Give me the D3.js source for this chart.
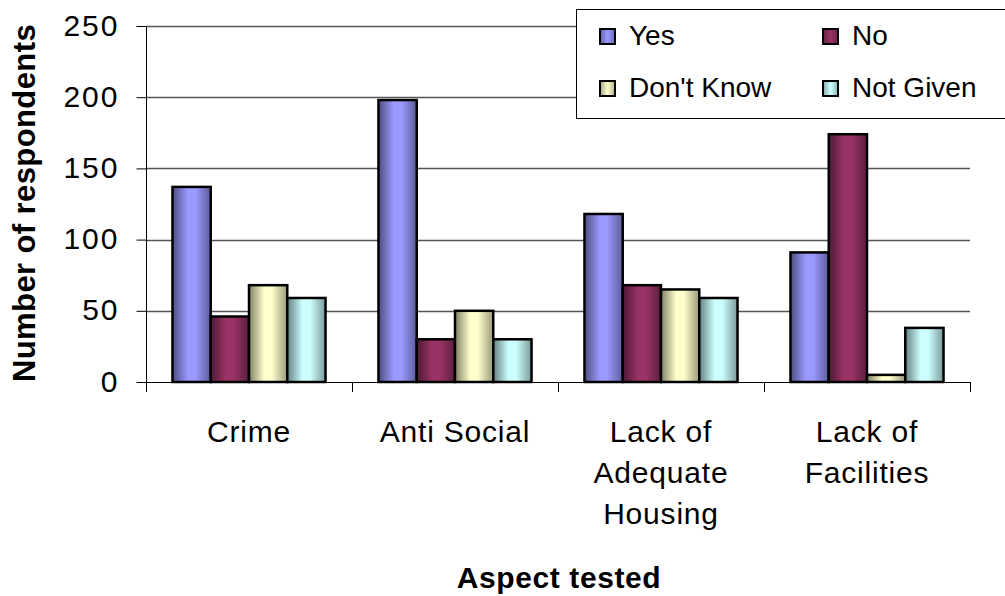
<!DOCTYPE html>
<html>
<head>
<meta charset="utf-8">
<script src="https://cdn.jsdelivr.net/npm/d3@7/dist/d3.min.js"></script>
<style>
  html, body { margin: 0; padding: 0; background: #fff; }
  svg { display: block; font-family: "Liberation Sans", Arial, sans-serif; }
</style>
</head>
<body>
<svg id="chart" width="1005" height="596"></svg>
<script>
// Survey responses per aspect tested
const categories = [["Crime"], ["Anti Social"], ["Lack of", "Adequate", "Housing"], ["Lack of", "Facilities"]];
const seriesNames = ["Yes", "No", "Don't Know", "Not Given"];
const yesValues = [137, 198, 118, 91];
const noValues = [46, 30, 68, 174];
const dontKnowValues = [68, 50, 65, 5];
const notGivenValues = [59, 30, 59, 38];
const yTicks = [0, 50, 100, 150, 200, 250];
const seriesColors = ["#9999FF", "#993366", "#FFFFCC", "#CCFFFF"];

const seriesValues = [yesValues, noValues, dontKnowValues, notGivenValues];

const svg = d3.select("#chart");
const plotLeft = 146, plotRight = 970, plotTop = 26, plotBottom = 382;

const x = d3.scaleBand().domain(d3.range(categories.length)).range([plotLeft, plotRight]).paddingInner(0.257).paddingOuter(0.1285);
const xOuter = d3.scaleBand().domain(d3.range(categories.length)).range([plotLeft, plotRight]);
const xs = d3.scaleBand().domain(d3.range(seriesNames.length)).range([0, x.bandwidth()]);
const y = d3.scaleLinear().domain([0, 250]).range([plotBottom, plotTop]);

// shaded fills: darker edges, lighter centre
const defs = svg.append("defs");
function shade(c, k) { return d3.interpolateRgb(c, "#000")(k); }
seriesColors.forEach((c, i) => {
  const g = defs.append("linearGradient").attr("id", "g" + i).attr("x1", "0").attr("x2", "1").attr("y1", "0").attr("y2", "0");
  g.append("stop").attr("offset", "0").attr("stop-color", shade(c, 0.5));
  g.append("stop").attr("offset", "0.4").attr("stop-color", c);
  g.append("stop").attr("offset", "0.6").attr("stop-color", c);
  g.append("stop").attr("offset", "1").attr("stop-color", shade(c, 0.4));
  const lg = defs.append("linearGradient").attr("id", "l" + i).attr("x1", "0").attr("x2", "1").attr("y1", "0").attr("y2", "0");
  lg.append("stop").attr("offset", "0").attr("stop-color", shade(c, 0.35));
  lg.append("stop").attr("offset", "0.5").attr("stop-color", c);
  lg.append("stop").attr("offset", "1").attr("stop-color", shade(c, 0.3));
});

// gridlines
svg.append("g").selectAll("line").data(yTicks.filter(t => t > 0)).join("line")
  .attr("x1", plotLeft).attr("x2", plotRight)
  .attr("y1", d => Math.round(y(d)) + 0.5).attr("y2", d => Math.round(y(d)) + 0.5)
  .attr("stroke", "#555").attr("stroke-width", 1.3);

// y axis
const yAxis = svg.append("g").attr("transform", `translate(${plotLeft + 0.5},0)`)
  .call(d3.axisLeft(y).tickValues(yTicks).tickSize(10).tickPadding(17));
yAxis.select(".domain").remove();
yAxis.selectAll(".tick line").attr("stroke", "#000");
yAxis.selectAll("text").attr("font-size", 30).attr("letter-spacing", 2).attr("fill", "#000").attr("dy", "0.3em");
svg.append("line").attr("x1", plotLeft + 0.5).attr("x2", plotLeft + 0.5).attr("y1", plotTop).attr("y2", plotBottom + 10).attr("stroke", "#000");

// bars
categories.forEach((cat, ci) => {
  seriesValues.forEach((vals, si) => {
    const v = vals[ci];
    svg.append("rect")
      .attr("x", x(ci) + xs(si))
      .attr("y", y(v))
      .attr("width", xs.bandwidth())
      .attr("height", plotBottom - y(v))
      .attr("fill", `url(#g${si})`)
      .attr("stroke", "#000")
      .attr("stroke-width", 2.5);
  });
});

// x axis baseline and category ticks
svg.append("line").attr("x1", plotLeft).attr("x2", plotRight).attr("y1", plotBottom + 0.5).attr("y2", plotBottom + 0.5).attr("stroke", "#000");
svg.append("g").selectAll("line").data(d3.range(categories.length + 1)).join("line")
  .attr("x1", d => Math.round(plotLeft + d * xOuter.step()) + 0.5)
  .attr("x2", d => Math.round(plotLeft + d * xOuter.step()) + 0.5)
  .attr("y1", plotBottom).attr("y2", plotBottom + 10).attr("stroke", "#000");

// category labels
const lab = svg.append("g");
categories.forEach((lines, ci) => {
  const cx = xOuter(ci) + xOuter.bandwidth() / 2;
  const t = lab.append("text").attr("text-anchor", "middle").attr("font-size", 30).attr("letter-spacing", 0.8).attr("fill", "#000")
    .attr("x", cx).attr("y", 442);
  lines.forEach((ln, li) => t.append("tspan").attr("x", cx).attr("dy", li ? 41 : 0).text(ln));
});

// axis titles
svg.append("text").attr("x", 559).attr("y", 588).attr("text-anchor", "middle")
  .attr("font-size", 30).attr("letter-spacing", 0.6).attr("font-weight", "bold").text("Aspect tested");
svg.append("text").attr("transform", "translate(35,203) rotate(-90)").attr("text-anchor", "middle")
  .attr("font-size", 31).attr("letter-spacing", 0.4).attr("font-weight", "bold").text("Number of respondents");

// legend
const lgd = svg.append("g");
lgd.append("rect").attr("x", 576.5).attr("y", 9.5).attr("width", 440).attr("height", 109)
  .attr("fill", "#fff").attr("stroke", "#000").attr("stroke-width", 1);
const legPos = [[600, 45], [823, 45], [600, 97], [823, 97]];
seriesNames.forEach((n, i) => {
  const [lx, ly] = legPos[i];
  lgd.append("rect").attr("x", lx).attr("y", ly - 16).attr("width", 15).attr("height", 15)
    .attr("fill", `url(#l${i})`).attr("stroke", "#000").attr("stroke-width", 2);
  lgd.append("text").attr("x", lx + 29).attr("y", ly)
    .attr("font-size", 28).attr("fill", "#000").text(n);
});
</script>
</body>
</html>
